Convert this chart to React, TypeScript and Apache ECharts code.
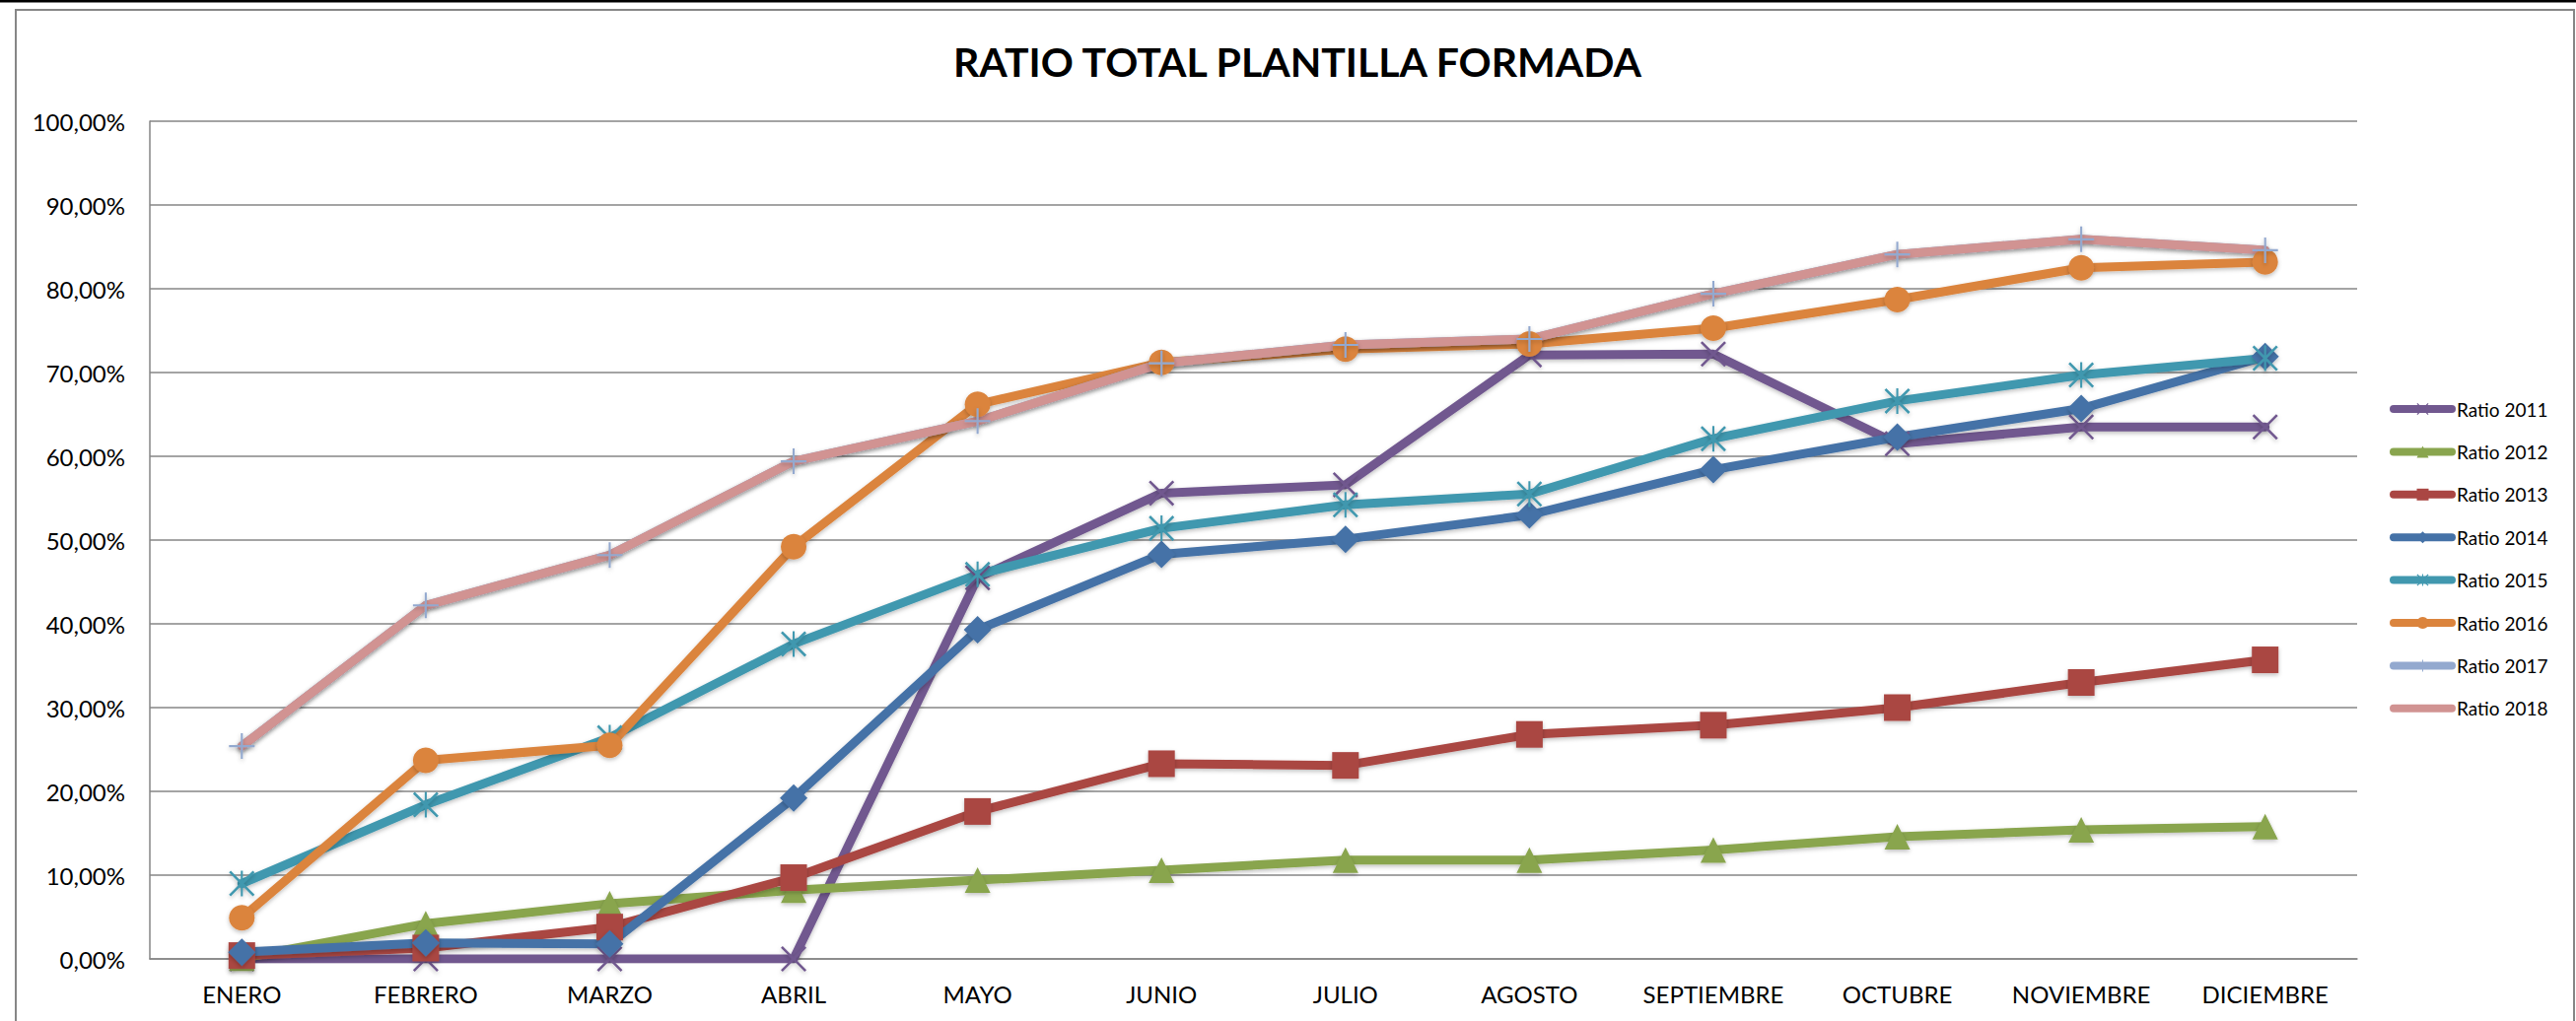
import React, { useEffect, useRef } from 'react';
import * as echarts from 'echarts';

const months = ['ENERO', 'FEBRERO', 'MARZO', 'ABRIL', 'MAYO', 'JUNIO', 'JULIO', 'AGOSTO', 'SEPTIEMBRE', 'OCTUBRE', 'NOVIEMBRE', 'DICIEMBRE'];

const ratio2011 = [0, 0, 0, 0, 45.5, 55.6, 56.6, 72.1, 72.2, 61.5, 63.5, 63.5];
const ratio2012 = [0.1, 4.2, 6.6, 8.2, 9.4, 10.6, 11.8, 11.8, 13.0, 14.6, 15.4, 15.8];
const ratio2013 = [0.4, 1.3, 3.8, 9.7, 17.6, 23.3, 23.1, 26.8, 27.9, 30.0, 33.0, 35.7];
const ratio2014 = [0.8, 1.9, 1.8, 19.2, 39.3, 48.3, 50.1, 53.0, 58.4, 62.3, 65.7, 71.9];
const ratio2015 = [9.0, 18.4, 26.4, 37.6, 45.9, 51.4, 54.2, 55.5, 62.1, 66.6, 69.7, 71.7];
const ratio2016 = [4.9, 23.7, 25.5, 49.2, 66.2, 71.2, 72.8, 73.4, 75.3, 78.7, 82.5, 83.2];
const ratio2017 = [25.4, 42.2, 48.2, 59.4, 64.2, 71.1, 73.3, 74.0, 79.4, 84.1, 85.9, 84.6];
const ratio2018 = [25.4, 42.2, 48.2, 59.4, 64.2, 71.1, 73.3, 74.0, 79.4, 84.1, 85.9, 84.6];

const seriesNames = ['Ratio 2011', 'Ratio 2012', 'Ratio 2013', 'Ratio 2014', 'Ratio 2015', 'Ratio 2016', 'Ratio 2017', 'Ratio 2018'];
const chartTitle = 'RATIO TOTAL PLANTILLA FORMADA';
const yMin = 0;
const yMax = 100;
const yStep = 10;

const SYM_X = 'path://M0,7L7,0L50,43L93,0L100,7L57,50L100,93L93,100L50,57L7,100L0,93L43,50Z';
const SYM_STAR = 'path://M0,7L7,0L50,43L93,0L100,7L57,50L100,93L93,100L50,57L7,100L0,93L43,50Z M46,0L54,0L54,100L46,100Z';
const SYM_PLUS = 'path://M46,0L54,0L54,100L46,100Z M0,46L100,46L100,54L0,54Z';

const FONT = 'Lato, "Open Sans", sans-serif';
const GRID_COLOR = '#868686';

function mk(name: string, data: number[], color: string, symbol: string, size: number) {
  return {
    name,
    type: 'line',
    data,
    symbol,
    symbolSize: size,
    showSymbol: symbol !== 'none',
    lineStyle: {
      color,
      width: 9,
      cap: 'round',
      join: 'round',
      shadowColor: 'rgba(0,0,0,0.25)',
      shadowBlur: 4,
      shadowOffsetY: 2,
    },
    itemStyle: {
      color,
      shadowColor: 'rgba(0,0,0,0.25)',
      shadowBlur: 4,
      shadowOffsetY: 2,
    },
    emphasis: { disabled: true },
  };
}

export default function App() {
  const ref = useRef<HTMLDivElement>(null);
  useEffect(() => {
    document.body.style.margin = '0';
    const chart = echarts.init(ref.current as HTMLDivElement, null, { renderer: 'svg' });
    const option: any = {
      animation: false,
      backgroundColor: '#ffffff',
      title: {
        text: chartTitle,
        left: 967,
        top: 37,
        padding: 0,
        textStyle: {
          fontFamily: FONT,
          fontWeight: 'bold',
          fontSize: 41,
          lineHeight: 50,
          color: '#000',
        },
      },
      legend: {
        orient: 'vertical',
        left: 2424,
        top: 405,
        itemWidth: 59,
        itemHeight: 15,
        itemGap: 23.4,
        padding: 0,
        selectedMode: false,
        data: seriesNames.map((n) => (n === 'Ratio 2018' ? { name: n, itemStyle: { opacity: 0 } } : n)),
        lineStyle: { width: 8, cap: 'round' },
        textStyle: { fontFamily: FONT, fontSize: 19, lineHeight: 20, color: '#000' },
      },
      grid: {
        left: 152,
        right: 222,
        top: 123,
        bottom: 63,
        containLabel: false,
        outerBoundsMode: 'none',
      },
      xAxis: {
        type: 'category',
        data: months,
        boundaryGap: true,
        axisLine: { show: true, lineStyle: { color: GRID_COLOR, width: 1.5 } },
        axisTick: { show: false },
        splitLine: { show: false },
        axisLabel: { interval: 0, fontFamily: FONT, fontSize: 24, lineHeight: 24, color: '#000', margin: 23 },
      },
      yAxis: {
        type: 'value',
        min: yMin,
        max: yMax,
        interval: yStep,
        axisLine: { show: true, lineStyle: { color: GRID_COLOR, width: 1.5 } },
        axisTick: { show: false },
        splitLine: { show: true, lineStyle: { color: GRID_COLOR, width: 1.5 } },
        axisLabel: {
          fontFamily: FONT,
          fontSize: 24,
          color: '#000',
          margin: 25,
          formatter: (v: number) => v.toFixed(2).replace('.', ',') + '%',
        },
      },
      graphic: [
        {
          type: 'rect',
          silent: true,
          z: -10,
          shape: { x: 16, y: 10, width: 2595, height: 1040 },
          style: { fill: 'none', stroke: GRID_COLOR, lineWidth: 2 },
        },
        {
          type: 'line',
          silent: true,
          shape: { x1: 0, y1: 1, x2: 2613, y2: 1 },
          style: { stroke: '#000', lineWidth: 3 },
        },
      ],
      series: [
        mk(seriesNames[0], ratio2011, '#71588F', SYM_X, 26),
        mk(seriesNames[1], ratio2012, '#89A54E', 'triangle', 26),
        mk(seriesNames[2], ratio2013, '#AA4643', 'rect', 27),
        mk(seriesNames[3], ratio2014, '#4572A7', 'diamond', 28),
        mk(seriesNames[4], ratio2015, '#4198AF', SYM_STAR, 26),
        mk(seriesNames[5], ratio2016, '#DB843D', 'circle', 26),
        mk(seriesNames[6], ratio2017, '#93A9CF', SYM_PLUS, 26),
        mk(seriesNames[7], ratio2018, '#D19392', 'none', 10),
      ],
    };
    chart.setOption(option);
    return () => chart.dispose();
  }, []);
  return <div ref={ref} style={{ width: 2613, height: 1036 }} />;
}
